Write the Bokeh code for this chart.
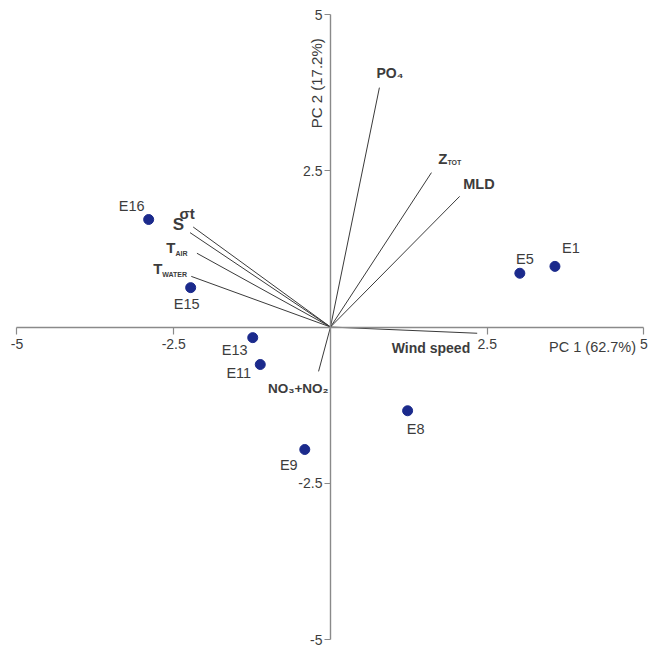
import math
from bokeh.plotting import figure
from bokeh.models import ColumnDataSource, FixedTicker, Range1d
from bokeh.embed import file_html
from bokeh.resources import INLINE
from bokeh.core.properties import value

# ---------------- data ----------------
samples = ["E1", "E5", "E8", "E9", "E11", "E13", "E15", "E16"]
pc1 = [3.58, 3.02, 1.23, -0.41, -1.12, -1.24, -2.23, -2.90]
pc2 = [0.97, 0.86, -1.34, -1.96, -0.60, -0.17, 0.63, 1.72]

variables = ["PO₄", "Z", "MLD", "Wind speed", "NO₃+NO₂", "σt", "S", "T", "T"]
var_sub = ["", "TOT", "", "", "", "", "", "AIR", "WATER"]
load1 = [0.78, 1.61, 2.06, 2.34, -0.19, -2.19, -2.24, -2.13, -2.22]
load2 = [3.83, 2.47, 2.09, -0.10, -0.71, 1.60, 1.51, 1.18, 0.81]

ticks = [-5, -2.5, 2.5, 5]
tick_labels = ["-5", "-2.5", "2.5", "5"]
x_title = "PC 1 (62.7%)"
y_title = "PC 2 (17.2%)"

# ---------------- styling ----------------
FONT = value("Liberation Sans")
AXIS_COLOR = "#8a8a8a"
TEXT_COLOR = "#3c3c3c"
POINT_COLOR = "#1b2a8c"
VEC_COLOR = "#3a3a3a"

# label offsets (screen px, y down) for sample labels
sample_dx = {"E1": 16, "E5": 5, "E8": 8, "E9": -16, "E11": -21.5, "E13": -18, "E15": -4, "E16": -17}
sample_dy = {"E1": -18, "E5": -14, "E8": 18, "E9": 15, "E11": 8, "E13": 12, "E15": 16, "E16": -14}

# variable label anchors: main text right-aligned at anchor, subscript left-aligned
var_dx = [24, 16, 35, -7, 10, 1.5, -6, -21.5, -29]
var_dy_main = [-14.5, -14.5, -12, 15, 17, -14, -8, -6, -7.5]
var_dy_sub = [0, -10, 0, 0, 0, 0, 0, 0, -2]
var_fs = ["14px", "15px", "14.5px", "14px", "13.5px", "15px", "17px", "15px", "15px"]

p = figure(width=649, height=646,
           x_range=Range1d(-5.263, 5.088), y_range=Range1d(-5.112, 5.224),
           output_backend="svg", toolbar_location=None, min_border=0)
p.grid.visible = False
p.outline_line_color = None
p.background_fill_color = "white"
p.border_fill_color = "white"

overrides = {t: l for t, l in zip(ticks, tick_labels)}
for ax in (p.xaxis[0], p.yaxis[0]):
    ax.fixed_location = 0
    ax.ticker = FixedTicker(ticks=ticks)
    ax.major_label_overrides = overrides
    ax.bounds = (-5, 5)
    ax.axis_line_color = AXIS_COLOR
    ax.axis_line_width = 1.4
    ax.major_tick_line_color = AXIS_COLOR
    ax.major_tick_line_width = 1.2
    ax.major_tick_in = 0
    ax.minor_tick_in = 0
    ax.minor_tick_out = 0
    ax.major_label_text_font = "Liberation Sans"
    ax.major_label_text_font_size = "14px"
    ax.major_label_text_color = TEXT_COLOR
p.xaxis.major_tick_out = 7
p.xaxis.major_label_standoff = 5
p.yaxis.major_tick_out = 6
p.yaxis.major_label_standoff = 2

# loading vectors
vsrc = ColumnDataSource(dict(
    x0=[0] * len(variables), y0=[0] * len(variables),
    x=load1, y=load2, main=variables, sub=var_sub,
    dx=var_dx, dym=var_dy_main, dys=var_dy_sub, fs=var_fs))
p.segment(x0="x0", y0="y0", x1="x", y1="y", source=vsrc,
          line_color=VEC_COLOR, line_width=1)
p.text(x="x", y="y", text="main", source=vsrc, x_offset="dx", y_offset="dym",
       text_font=FONT, text_font_style="bold", text_font_size="fs",
       text_color=TEXT_COLOR, text_align="right", text_baseline="middle")
p.text(x="x", y="y", text="sub", source=vsrc, x_offset="dx", y_offset="dys",
       text_font=FONT, text_font_style="bold", text_font_size="7px",
       text_color=TEXT_COLOR, text_align="left", text_baseline="middle")

# samples
ssrc = ColumnDataSource(dict(
    x=pc1, y=pc2, name=samples,
    dx=[sample_dx[s] for s in samples], dy=[sample_dy[s] for s in samples]))
p.scatter(x="x", y="y", source=ssrc, size=10, fill_color=POINT_COLOR,
          line_color=POINT_COLOR)
p.text(x="x", y="y", text="name", source=ssrc, x_offset="dx", y_offset="dy",
       text_font=FONT, text_font_size="14.5px", text_color=TEXT_COLOR,
       text_align="center", text_baseline="middle")

# axis titles
p.text(x=[4.18], y=[0], text=[x_title], x_offset=0, y_offset=20,
       text_font=FONT, text_font_size="14.5px", text_color=TEXT_COLOR,
       text_align="center", text_baseline="middle")
p.text(x=[0], y=[3.9], text=[y_title], x_offset=-14, y_offset=0,
       angle=math.pi / 2, text_font=FONT, text_font_size="15px",
       text_color=TEXT_COLOR, text_align="center", text_baseline="middle")

open("out.html", "w").write(file_html(p, INLINE))
